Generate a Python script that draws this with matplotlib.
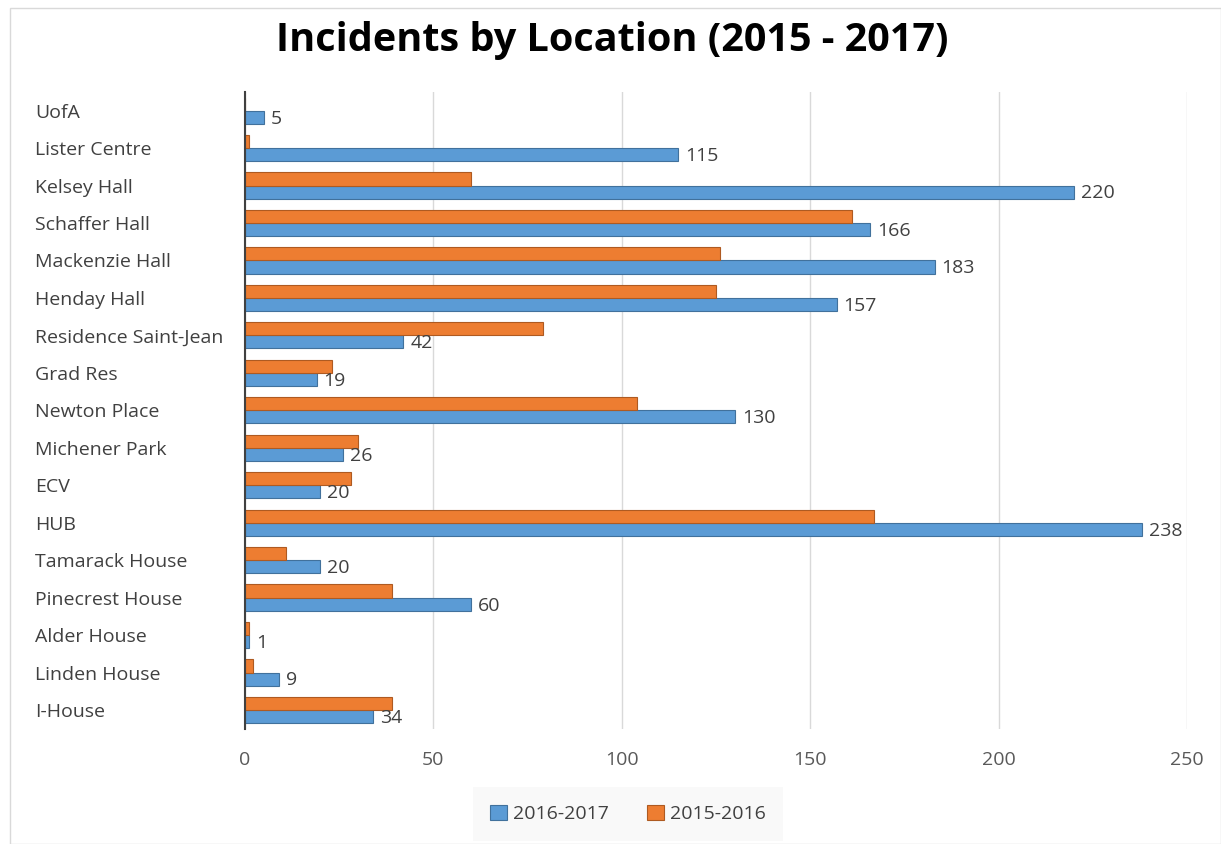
import matplotlib
matplotlib.use("Agg")
import matplotlib.pyplot as plt
import numpy as np
from matplotlib.patches import Rectangle

categories = ["UofA", "Lister Centre", "Kelsey Hall", "Schaffer Hall", "Mackenzie Hall",
              "Henday Hall", "Residence Saint-Jean", "Grad Res", "Newton Place",
              "Michener Park", "ECV", "HUB", "Tamarack House", "Pinecrest House",
              "Alder House", "Linden House", "I-House"]
s2016_2017 = [5, 115, 220, 166, 183, 157, 42, 19, 130, 26, 20, 238, 20, 60, 1, 9, 34]
s2015_2016 = [0, 1, 60, 161, 126, 125, 79, 23, 104, 30, 28, 167, 11, 39, 1, 2, 39]
xticks = [0, 50, 100, 150, 200, 250]

plt.rcParams['font.family'] = ['Open Sans', 'DejaVu Sans']

W, H = 1221, 844
fig = plt.figure(figsize=(W / 100, H / 100), dpi=100)
fig.patch.set_facecolor("white")
fig.add_artist(Rectangle((10 / W, 0), 1 - 10 / W, 1 - 8 / H, transform=fig.transFigure,
                         fill=False, edgecolor="#D9D9D9", linewidth=1.0))

ax = fig.add_axes([245 / W, 1 - 728.7 / H, (1187 - 245) / W, (728.7 - 91.9) / H])

blue = "#5B9BD5"
orange = "#ED7D31"
y = np.arange(len(categories))
h = 0.35
bb = ax.barh(y + h / 2, s2016_2017, height=h, color=blue, edgecolor="#41719C", linewidth=0.8,
             label="2016-2017", zorder=3)
ob = ax.barh(y - h / 2, s2015_2016, height=h, color=orange, edgecolor="#AE5A21", linewidth=0.8,
             label="2015-2016", zorder=3)

for rect, v in zip(bb, s2016_2017):
    ax.annotate(str(v), (rect.get_width(), rect.get_y() + rect.get_height() / 2),
                xytext=(5, -1), textcoords="offset points", ha="left", va="center",
                fontsize=14, color="#404040")

ax.set_ylim(len(categories) - 0.5, -0.5)
ax.set_xlim(0, 250)
ax.set_xticks(xticks)
ax.set_xticklabels([str(t) for t in xticks], fontsize=14, color="#595959")
ax.set_yticks(y)
ax.set_yticklabels(categories, fontsize=14, color="#404040", ha="left")
ax.tick_params(axis="y", length=0, pad=151)
ax.tick_params(axis="x", length=0, pad=16)
ax.grid(axis="x", color="#D9D9D9", linewidth=1.0, zorder=0)
for s in ["top", "right", "bottom"]:
    ax.spines[s].set_visible(False)
ax.spines["left"].set_color("#404040")
ax.spines["left"].set_linewidth(1.5)
ax.spines["left"].set_zorder(4)

fig.suptitle("Incidents by Location (2015 - 2017)", fontsize=28.5, fontweight="bold",
             x=612 / W, y=1 - 40 / H, va="center", color="black")

leg = ax.legend(loc="center", bbox_to_anchor=(628 / W, 1 - 814 / H),
                bbox_transform=fig.transFigure, ncol=2, frameon=True, fontsize=14,
                handlelength=0.85, handleheight=0.85, columnspacing=2.0, handletextpad=0.3,
                borderpad=0.9, fancybox=False)
leg.get_frame().set_facecolor("#F8F8F8")
leg.get_frame().set_edgecolor("none")
for t in leg.get_texts():
    t.set_color("#404040")

fig.savefig("out.png", dpi=100, facecolor="white")
